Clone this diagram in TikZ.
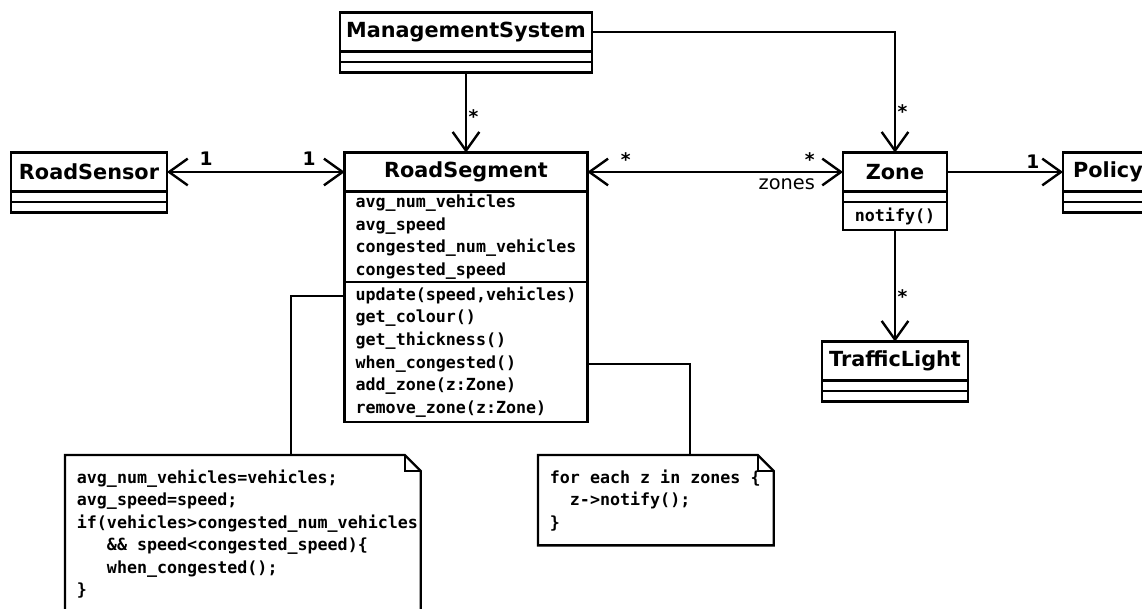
\documentclass[tikz,border=0pt]{standalone}
\usepackage{fontspec}
\setmainfont{DejaVu Sans}
\setmonofont{DejaVu Sans Mono}
\usetikzlibrary{positioning,arrows.meta}
\newcommand{\msp}{\hphantom{0}}

\begin{document}
\begin{tikzpicture}[x=0.75pt,y=-0.75pt,line width=1.8pt,
                      class name/.style={draw,rectangle,inner sep=0pt,outer sep=0pt,
                      minimum height=29pt,font=\fontsize{15.6}{18}\selectfont\bfseries},
                      class part/.style={draw,rectangle,inner sep=0pt,outer sep=0pt,
                      minimum height=8pt},
                      class body/.style={draw,rectangle,inner sep=0pt,outer sep=0pt,
                      align=left,font=\fontsize{12.5}{17}\selectfont\ttfamily\bfseries},
                      note text/.style={inner xsep=8pt,inner ysep=10pt,anchor=north west,
                      align=left,font=\fontsize{12.5}{16.9}\selectfont\ttfamily\bfseries},
                      mult/.style={font=\fontsize{14}{16}\selectfont\bfseries,inner sep=1pt},
                      assoc/.style={-{Straight Barb[length=14pt,width=20pt]}},
                      biassoc/.style={{Straight Barb[length=14pt,width=20pt]}-{Straight Barb[length=14pt,width=20pt]}}
                     ]
   \useasboundingbox (0,0) rectangle (1142,609);
   \clip (0,0) rectangle (1142,609);

   % classes
   \node[class name,minimum width=189pt] (ms) at (466,32) {ManagementSystem};
   \node[class part,minimum width=189pt,below=0pt of ms] (ms-attr) {};
   \node[class part,minimum width=189pt,below=0pt of ms-attr] (ms-ops) {};

   \node[class name,minimum width=117pt] (sensor) at (89,172) {RoadSensor};
   \node[class part,minimum width=117pt,below=0pt of sensor] (sensor-attr) {};
   \node[class part,minimum width=117pt,below=0pt of sensor-attr] (sensor-ops) {};

   \node[class name,minimum width=182pt] (rseg) at (466,172) {RoadSegment};
   \node[class body,minimum width=182pt,minimum height=68pt,below=0pt of rseg] (rseg-attr)
     {avg\_num\_vehicles\\avg\_speed\\congested\_num\_vehicles\\congested\_speed};
   \node[class body,minimum width=182pt,minimum height=105pt,below=0pt of rseg-attr] (rseg-ops)
     {update(speed,vehicles)\\get\_colour()\\get\_thickness()\\when\_congested()\\add\_zone(z:Zone)\\remove\_zone(z:Zone)};

   \node[class name,minimum width=78pt] (zone) at (895,172) {Zone};
   \node[class part,minimum width=78pt,below=0pt of zone] (zone-attr) {};
   \node[class body,minimum width=78pt,minimum height=21pt,below=0pt of zone-attr] (zone-ops) {notify()};

   \node[class name,minimum width=67.5pt] (policy) at (1108,172) {Policy};
   \node[class part,minimum width=67.5pt,below=0pt of policy] (policy-attr) {};
   \node[class part,minimum width=67.5pt,below=0pt of policy-attr] (policy-ops) {};

   \node[class name,minimum width=109.5pt] (tlight) at (895,361) {TrafficLight};
   \node[class part,minimum width=109.5pt,below=0pt of tlight] (tlight-attr) {};
   \node[class part,minimum width=109.5pt,below=0pt of tlight-attr] (tlight-ops) {};

   % notes
   \node[note text,text width=249pt] (note1) at (65,455)
     {avg\_num\_vehicles=vehicles;\\
      avg\_speed=speed;\\
      if(vehicles>congested\_num\_vehicles\\
      \msp\msp\msp\&\&\msp speed<congested\_speed)\{\\
      \msp\msp\msp when\_congested();\\
      \}};
   \node[note text,text width=159pt] (note2) at (538,455)
     {for\msp each\msp z\msp in\msp zones\msp\{\\
      \msp\msp z->notify();\\
      \}};
   \draw (note1.south west) -- (note1.north west) -- ([xshift=-12pt]note1.north east)
     -- ([yshift=-12pt]note1.north east) -- (note1.south east);
   \draw ([xshift=-12pt]note1.north east) |- ([yshift=-12pt]note1.north east);
   \draw (note2.south west) -- (note2.north west) -- ([xshift=-12pt]note2.north east)
     -- ([yshift=-12pt]note2.north east) -- (note2.south east) -- cycle;
   \draw ([xshift=-12pt]note2.north east) |- ([yshift=-12pt]note2.north east);

   % associations
   \draw[assoc] (ms-ops.south) -- node[mult,pos=0.55,right] {*} (rseg.north);
   \draw[biassoc] (sensor.east) -- node[mult,pos=0.22,above,yshift=3pt] {1}
     node[mult,pos=0.8,above,yshift=3pt] {1} (rseg.west);
   \draw[biassoc] (rseg.east) -- node[mult,pos=0.15,above,yshift=2pt] {*}
     node[mult,pos=0.87,above,yshift=2pt] {*}
     node[pos=0.78,below,inner sep=4pt,font=\fontsize{14.5}{16}\selectfont] {zones} (zone.west);
   \draw[assoc] (ms.east) -| node[mult,pos=0.83,right] {*} (zone.north);
   \draw[assoc] (zone.east) -- node[mult,pos=0.74,above,yshift=1pt] {1} (policy.west);
   \draw[assoc] (zone-ops.south) -- node[mult,pos=0.6,right] {*} (tlight.north);

   % note links
   \draw ([yshift=-10.5pt]rseg-ops.north west) -| ([xshift=36pt]note1.north);
   \draw ([yshift=-61.5pt]rseg-ops.north east) -| ([xshift=25.5pt]note2.north);
\end{tikzpicture}
\end{document}
